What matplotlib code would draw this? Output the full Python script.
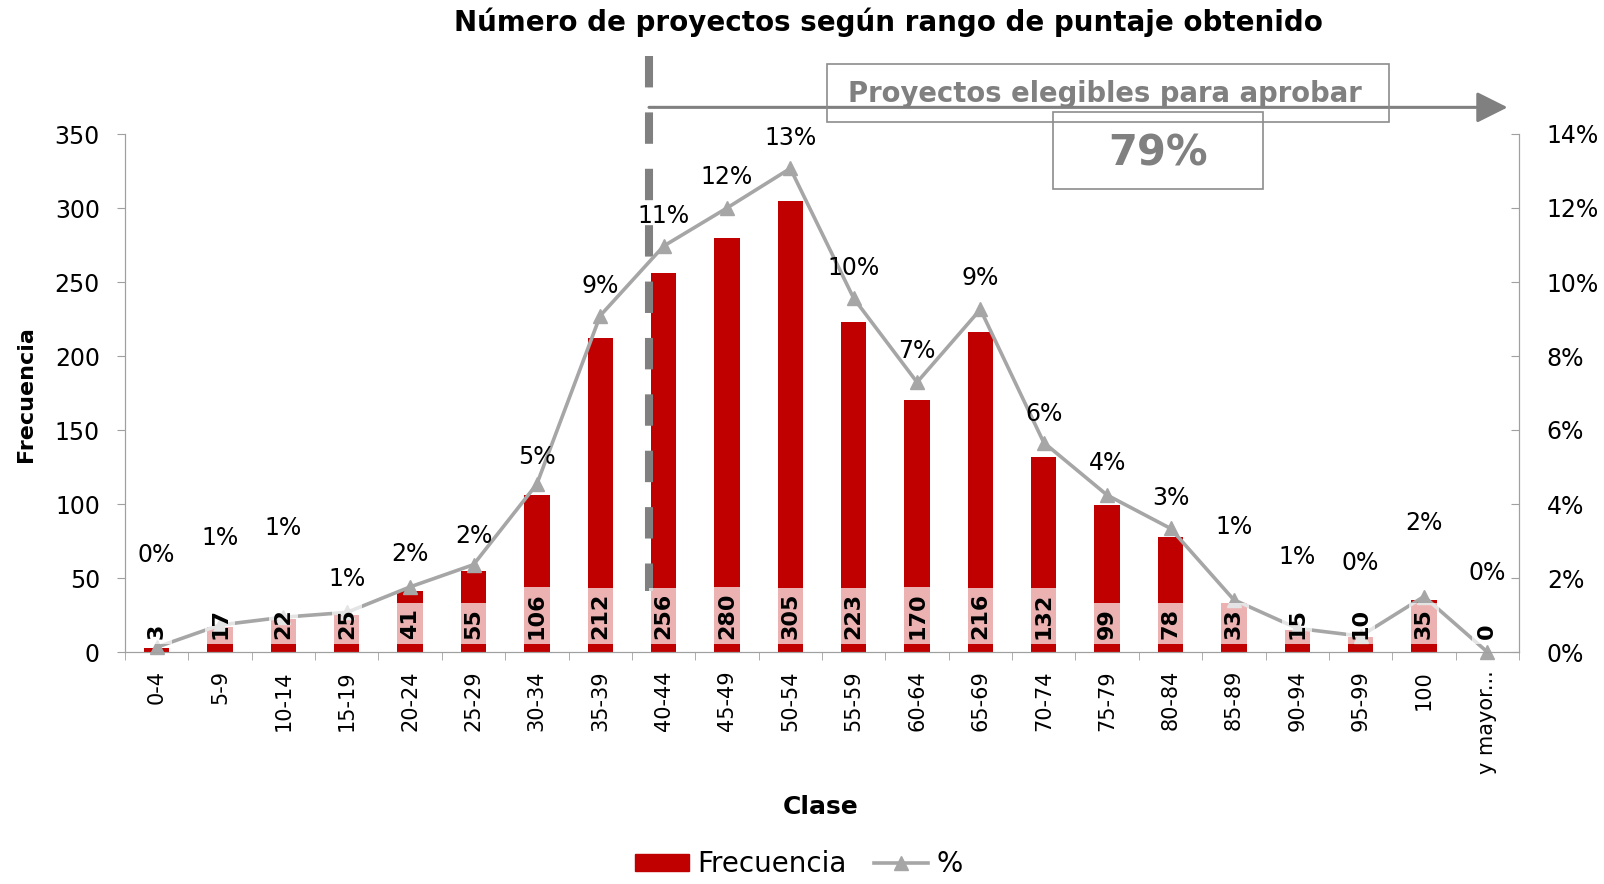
import numpy as np
import matplotlib
matplotlib.use("Agg")
import matplotlib.pyplot as plt
import matplotlib.transforms as mtransforms
from matplotlib.patches import Rectangle, Patch
from matplotlib.lines import Line2D

plt.rcParams['font.family'] = ['DejaVu Sans']

clases = ["0-4", "5-9", "10-14", "15-19", "20-24", "25-29", "30-34", "35-39",
          "40-44", "45-49", "50-54", "55-59", "60-64", "65-69", "70-74",
          "75-79", "80-84", "85-89", "90-94", "95-99", "100", "y mayor..."]
frecuencia = [3, 17, 22, 25, 41, 55, 106, 212, 256, 280, 305, 223, 170, 216,
              132, 99, 78, 33, 15, 10, 35, 0]
porcentaje = [0.13, 0.73, 0.94, 1.07, 1.76, 2.36, 4.54, 9.09, 10.97, 12.00,
              13.07, 9.56, 7.29, 9.26, 5.66, 4.24, 3.34, 1.41, 0.64, 0.43,
              1.50, 0.00]
pct_labels = ["0%", "1%", "1%", "1%", "2%", "2%", "5%", "9%", "11%", "12%",
              "13%", "10%", "7%", "9%", "6%", "4%", "3%", "1%", "1%", "0%",
              "2%", "0%"]
left_ticks = [0, 50, 100, 150, 200, 250, 300, 350]
right_ticks = [0, 2, 4, 6, 8, 10, 12, 14]

# how far each % label sits above its point (pixels), as placed in the original
pct_label_lift_px = [92, 87, 89, 33, 33, 29, 27, 30, 30, 31, 30, 30, 31, 31,
                     29, 32, 30, 73, 71, 73, 73, 79]

RED = '#C00000'
LINE = '#A6A6A6'
DARK = '#808080'
AXC = '#A0A0A0'

fig = plt.figure(figsize=(16.04, 8.84), dpi=100)
ax1 = fig.add_axes([125/1604, 1-652/884, (1519-125)/1604, (652-134)/884])
ax2 = ax1.twinx()

x = np.arange(len(clases))
ax1.bar(x, frecuencia, width=0.4, color=RED, zorder=2)
ax1.set_xlim(-0.5, len(clases) - 0.5)
ax1.set_ylim(0, 350)
ax2.set_ylim(0, 14)

ax2.plot(x, porcentaje, color=LINE, lw=2.6, marker='^', ms=10,
         zorder=2, clip_on=False)

# bar value labels, drawn above the line
lbl_tr = mtransforms.offset_copy(ax1.transData, fig=fig, x=0, y=9.5, units='points')
for i, v in enumerate(frecuencia):
    ax2.text(i, 0, str(v), transform=lbl_tr, rotation=90, ha='center',
             va='bottom', fontsize=16, fontweight='bold', zorder=5,
             bbox=dict(boxstyle='square,pad=0.22', fc='white', ec='none', alpha=0.7))

for i, (p, s) in enumerate(zip(porcentaje, pct_labels)):
    ax2.annotate(s, (i, p), xytext=(0, pct_label_lift_px[i] * 0.72),
                 textcoords='offset points', ha='center', va='center',
                 fontsize=17, zorder=6, annotation_clip=False)

# axes styling
for sp in ['left', 'right', 'bottom']:
    ax1.spines[sp].set_color(AXC)
    ax2.spines[sp].set_color(AXC)
ax1.spines['top'].set_visible(False)
ax2.spines['top'].set_visible(False)

ax1.set_yticks(left_ticks)
ax1.set_yticklabels([str(t) for t in left_ticks])
ax1.tick_params(axis='y', direction='out', length=6, color=AXC, labelsize=17, pad=12)
ax2.set_yticks(right_ticks)
ax2.set_yticklabels([f"{t}%" for t in right_ticks])
ax2.tick_params(axis='y', direction='in', length=6, color=AXC, labelsize=17, pad=20)

ax1.set_xticks(x)
ax1.set_xticklabels(clases, rotation=90, fontsize=15)
ax1.tick_params(axis='x', which='major', length=0, pad=13)
ax1.set_xticks(np.arange(-0.5, len(clases), 1), minor=True)
ax1.tick_params(axis='x', which='minor', direction='out', length=6, color=AXC)

# threshold line and arrow
ax1.plot([7.77, 7.77], [403, 41], color=DARK, lw=5.8, ls=(0, (3.9, 3.1)),
         clip_on=False, zorder=4)
ax1.annotate('', xy=(21.32, 368), xytext=(7.77, 368), annotation_clip=False,
             arrowprops=dict(arrowstyle='-|>,head_length=1.9,head_width=0.95',
                             lw=2.2, color=DARK, shrinkA=0, shrinkB=0))

fig.add_artist(Rectangle((827/1604, 1-122/884), 562/1604, 58/884, fill=False,
                         ec='#8C8C8C', lw=1.2, transform=fig.transFigure))
fig.add_artist(Rectangle((1053/1604, 1-189/884), 210/1604, 77/884, fill=False,
                         ec='#8C8C8C', lw=1.2, transform=fig.transFigure))
fig.text(1105/1604, 1-94/884, "Proyectos elegibles para aprobar", ha='center',
         va='center', fontsize=19.8, fontweight='bold', color=DARK)
fig.text(1158/1604, 1-153/884, "79%", ha='center', va='center', fontsize=30,
         fontweight='bold', color=DARK)

fig.text(888/1604, 1-22.5/884, "Número de proyectos según rango de puntaje obtenido",
         ha='center', va='center', fontsize=20, fontweight='bold')
fig.text(25.6/1604, 1-394/884, "Frecuencia", rotation=90, ha='center',
         va='center', fontsize=16, fontweight='bold')
fig.text(821/1604, 1-807/884, "Clase", ha='center', va='center', fontsize=18,
         fontweight='bold')

handles = [Patch(color=RED, label='Frecuencia'),
           Line2D([], [], color=LINE, lw=2.6, marker='^', ms=10, label='%')]
fig.legend(handles=handles, loc='center', bbox_to_anchor=(0.498, 1-864/884),
           ncol=2, frameon=False, fontsize=20, handlelength=1.95,
           handleheight=0.55, columnspacing=1.0, handletextpad=0.3,
           borderpad=0.1)

fig.savefig("out.png", dpi=100)
